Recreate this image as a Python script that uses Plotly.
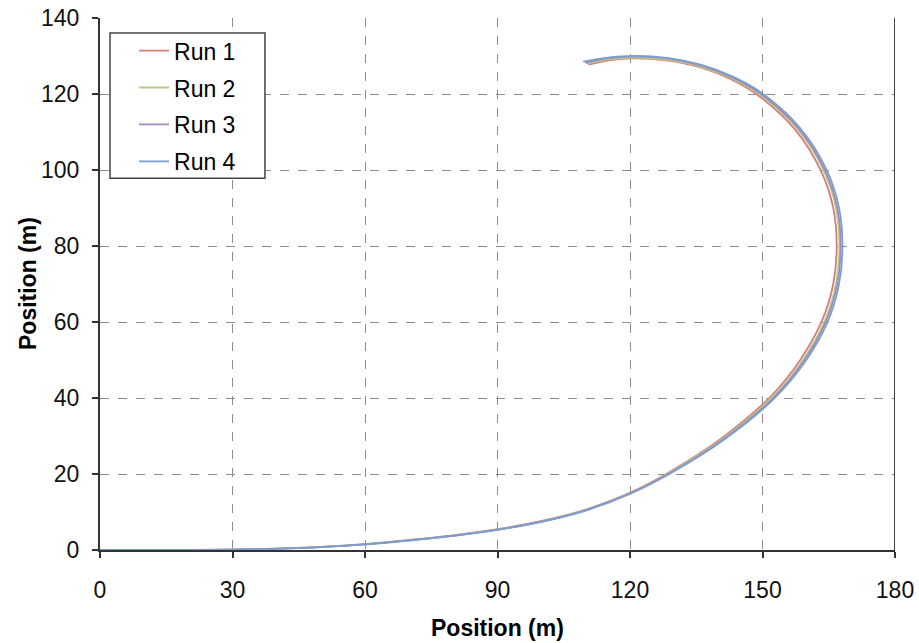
import plotly.graph_objects as go

# Vehicle path (x, y in metres) for four runs
run1_x = [0, 10, 20, 30, 40, 50, 60, 70, 80, 90, 100, 110, 119.93, 128.46, 140.84, 151.85, 158.46,
          163.45, 166.01, 166.8, 166.01, 163.26, 157.48, 149.11, 142.85, 135.95, 128.62, 121.0,
          115.56, 110.6]
run1_y = [0, 0, 0.03, 0.12, 0.37, 0.82, 1.56, 2.63, 3.85, 5.47, 7.64, 10.66, 15.03, 20.21, 29.51,
          40.39, 49.89, 60.27, 69.94, 80.0, 90.06, 99.7, 110.49, 119.54, 123.87, 126.98, 128.76,
          129.35, 128.95, 127.7]

run2_x = [0, 10, 20, 30, 40, 50, 60, 70, 80, 90, 100, 110, 120.0, 128.55, 141.0, 152.15, 158.93,
          164.01, 166.6, 167.4, 166.6, 163.81, 157.89, 149.37, 143.0, 136.03, 128.67, 121.0,
          115.53, 110.1]
run2_y = [0, 0, 0.02, 0.11, 0.35, 0.79, 1.52, 2.57, 3.77, 5.38, 7.54, 10.55, 14.93, 20.08, 29.3,
          40.13, 49.6, 60.07, 69.83, 80.0, 90.17, 99.92, 110.78, 119.85, 124.13, 127.21, 129.0,
          129.6, 129.2, 128.0]

run3_x = [0, 10, 20, 30, 40, 50, 60, 70, 80, 90, 100, 110, 120.0, 128.65, 141.16, 152.38, 159.19,
          164.29, 166.9, 167.7, 166.9, 164.09, 158.13, 149.56, 143.15, 136.13, 128.72, 121.0,
          115.49, 109.9]
run3_y = [0, 0, 0.02, 0.1, 0.34, 0.78, 1.5, 2.55, 3.75, 5.35, 7.5, 10.5, 14.88, 19.92, 29.12,
          39.93, 49.45, 59.97, 69.78, 80.0, 90.22, 100.04, 110.96, 120.08, 124.39, 127.49, 129.3,
          129.9, 129.5, 128.2]

run4_x = [0, 10, 20, 30, 40, 50, 60, 70, 80, 90, 100, 110, 120.07, 128.68, 141.26, 152.56, 159.49,
          164.67, 167.29, 168.1, 167.29, 164.46, 158.41, 149.76, 143.25, 136.19, 128.74, 121.0,
          115.47, 109.4]
run4_y = [0, 0, 0.02, 0.1, 0.32, 0.75, 1.46, 2.5, 3.7, 5.3, 7.42, 10.38, 14.8, 19.87, 29.01,
          39.77, 49.27, 59.83, 69.71, 80.0, 90.29, 100.19, 111.16, 120.31, 124.56, 127.64, 129.45,
          130.05, 129.65, 128.5]

run_names = ["Run 1", "Run 2", "Run 3", "Run 4"]
run_colors = ["#D87C7A", "#B5CD84", "#A08BBE", "#7A9ED0"]
runs = [(run1_x, run1_y), (run2_x, run2_y), (run3_x, run3_y), (run4_x, run4_y)]

x_ticks = [0, 30, 60, 90, 120, 150, 180]
y_ticks = [0, 20, 40, 60, 80, 100, 120, 140]

FONT = "Liberation Sans, Arial, sans-serif"
TICK_SIZE = 23

fig = go.Figure()
for (xs, ys), name, color in zip(runs, run_names, run_colors):
    fig.add_trace(go.Scatter(
        x=xs, y=ys, name=name, legendgroup=name, mode="lines",
        line=dict(color=color, width=1.8, shape="spline", smoothing=1.0),
        cliponaxis=False,
    ))

grid = dict(showgrid=True, gridcolor="#8C8C8C", griddash="dash", gridwidth=1)
axis_common = dict(
    ticks="outside", ticklen=6, tickwidth=1.5, tickcolor="#333333",
    showline=True, linecolor="#333333", linewidth=2,
    zeroline=False, layer="below traces", automargin=False,
    tickfont=dict(family=FONT, size=TICK_SIZE, color="#111111"),
    **grid,
)

fig.update_layout(
    width=919, height=643,
    margin=dict(l=100, r=24, t=18, b=93),
    paper_bgcolor="white", plot_bgcolor="white",
    font=dict(family=FONT, size=TICK_SIZE, color="#000000"),
    xaxis=dict(range=[0, 180], tickvals=x_ticks, ticklabelstandoff=12, **axis_common),
    yaxis=dict(range=[0, 140], tickvals=y_ticks, ticklabelstandoff=8, **axis_common),
    legend=dict(
        x=0.0428, y=0.979, xanchor="left", yanchor="top",
        bgcolor="rgba(0,0,0,0)", borderwidth=0,
        font=dict(family=FONT, size=23), tracegroupgap=4,
    ),
    shapes=[
        # legend frame (the legend itself is drawn over it)
        dict(type="rect", xref="paper", yref="paper", x0=0.0126, x1=0.2075, y0=0.699, y1=0.972,
             fillcolor="white", line=dict(color="#444444", width=1.5), layer="above"),
        # right edge of the plot area
        dict(type="line", xref="x", yref="paper", x0=180, x1=180, y0=0, y1=1,
             line=dict(color="#444444", width=2)),
    ],
    annotations=[
        dict(text="<b>Position (m)</b>", xref="paper", yref="paper", x=0.5, y=0,
             yanchor="middle", yshift=-78, showarrow=False,
             font=dict(family=FONT, size=23, color="#000000")),
        dict(text="<b>Position (m)</b>", xref="paper", yref="paper", x=0, y=0.5,
             xanchor="center", xshift=-72, textangle=-90, showarrow=False,
             font=dict(family=FONT, size=23, color="#000000")),
    ],
)

fig.write_html("out.html")
